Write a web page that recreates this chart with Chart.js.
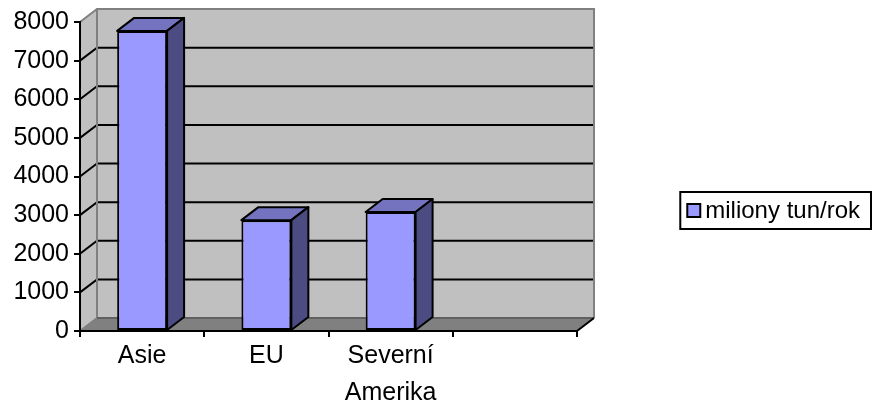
<!DOCTYPE html>
<html>
<head>
<meta charset="utf-8">
<script src="https://cdn.jsdelivr.net/npm/chart.js@4/dist/chart.umd.min.js"></script>
<style>
    body { margin: 0; background: #fff; }
    #wrap { width: 872px; height: 405px; position: relative; }
</style>
</head>
<body>
<div id="wrap"><canvas id="chart"></canvas></div>
<script>
    // Data
    const categories = ['Asie', 'EU', ['Severní', 'Amerika'], ''];
    const values = [7770, 2870, 3080, null];
    const seriesLabel = 'miliony tun/rok';
    const yTicks = [0, 1000, 2000, 3000, 4000, 5000, 6000, 7000, 8000];

    const FONT = "'Liberation Sans', Arial, sans-serif";
    const DX = 17, DY = -13;  // hloubka 3D

    // zadní stěna, boční stěna, podlaha a mřížka
    const wallsPlugin = {
        id: 'walls',
        beforeDraw(chart) {
            const ctx = chart.ctx;
            const a = chart.chartArea;
            const y = chart.scales.y;
            ctx.save();
            // zadní stěna
            ctx.fillStyle = '#c0c0c0';
            ctx.fillRect(a.left + DX, a.top + DY, a.right - a.left, a.bottom - a.top);
            // boční stěna
            ctx.beginPath();
            ctx.moveTo(a.left, a.top);
            ctx.lineTo(a.left + DX, a.top + DY);
            ctx.lineTo(a.left + DX, a.bottom + DY);
            ctx.lineTo(a.left, a.bottom);
            ctx.closePath();
            ctx.fill();
            // podlaha
            ctx.fillStyle = '#808080';
            ctx.beginPath();
            ctx.moveTo(a.left, a.bottom);
            ctx.lineTo(a.right, a.bottom);
            ctx.lineTo(a.right + DX, a.bottom + DY);
            ctx.lineTo(a.left + DX, a.bottom + DY);
            ctx.closePath();
            ctx.fill();
            // mřížka
            ctx.strokeStyle = '#000';
            ctx.lineWidth = 2;
            yTicks.forEach(v => {
                if (v === 0 || v === yTicks[yTicks.length - 1]) return;
                const py = y.getPixelForValue(v);
                ctx.beginPath();
                ctx.moveTo(a.left, py);
                ctx.lineTo(a.left + DX, py + DY);
                ctx.lineTo(a.right + DX, py + DY);
                ctx.stroke();
            });
            // okraje stěn
            ctx.strokeStyle = '#808080';
            ctx.beginPath();
            ctx.moveTo(a.left, a.top);
            ctx.lineTo(a.left + DX, a.top + DY);
            ctx.lineTo(a.right + DX, a.top + DY);
            ctx.lineTo(a.right + DX, a.bottom + DY);
            ctx.moveTo(a.left + DX, a.top + DY);
            ctx.lineTo(a.left + DX, a.bottom + DY);
            ctx.lineTo(a.left, a.bottom);
            ctx.stroke();
            ctx.strokeStyle = '#606060';
            ctx.beginPath();
            ctx.moveTo(a.left + DX, a.bottom + DY);
            ctx.lineTo(a.right + DX, a.bottom + DY);
            ctx.stroke();
            ctx.strokeStyle = '#000';
            ctx.beginPath();
            ctx.moveTo(a.right, a.bottom);
            ctx.lineTo(a.right + DX, a.bottom + DY);
            ctx.stroke();
            ctx.restore();
        },
        // horní a boční strana sloupců
        afterDatasetsDraw(chart) {
            const ctx = chart.ctx;
            const meta = chart.getDatasetMeta(0);
            ctx.save();
            ctx.strokeStyle = '#000';
            ctx.lineWidth = 2;
            ctx.lineJoin = 'round';
            meta.data.forEach((bar, i) => {
                if (values[i] == null) return;
                const p = bar.getProps(['x', 'y', 'base', 'width'], true);
                const l = p.x - p.width / 2, r = p.x + p.width / 2;
                const t = p.y, b = p.base;
                ctx.fillStyle = '#7373c0';
                ctx.beginPath();
                ctx.moveTo(l, t);
                ctx.lineTo(l + DX, t + DY);
                ctx.lineTo(r + DX, t + DY);
                ctx.lineTo(r, t);
                ctx.closePath();
                ctx.fill();
                ctx.stroke();
                ctx.fillStyle = '#4c4c82';
                ctx.beginPath();
                ctx.moveTo(r, t);
                ctx.lineTo(r + DX, t + DY);
                ctx.lineTo(r + DX, b + DY);
                ctx.lineTo(r, b);
                ctx.closePath();
                ctx.fill();
                ctx.stroke();
            });
            ctx.restore();
        },
        // legenda
        afterDraw(chart) {
            const ctx = chart.ctx;
            const ds = chart.data.datasets[0];
            ctx.save();
            ctx.font = '24px ' + FONT;
            const tw = ctx.measureText(ds.label).width;
            const bx = 860 - tw - 25, by = 192, bw = tw + 36, bh = 37;
            ctx.fillStyle = '#fff';
            ctx.fillRect(bx, by, bw, bh);
            ctx.strokeStyle = '#000';
            ctx.lineWidth = 2;
            ctx.strokeRect(bx, by, bw, bh);
            ctx.fillStyle = ds.backgroundColor;
            ctx.fillRect(bx + 7, by + 12, 13, 13);
            ctx.strokeRect(bx + 7, by + 12, 13, 13);
            ctx.fillStyle = '#000';
            ctx.textBaseline = 'middle';
            ctx.fillText(ds.label, bx + 25, by + bh / 2 + 1);
            ctx.restore();
        }
    };

    const chart = new Chart(document.getElementById('chart'), {
        type: 'bar',
        data: {
            labels: categories,
            datasets: [{
                label: seriesLabel,
                data: values,
                backgroundColor: '#9999ff',
                borderColor: '#000',
                borderWidth: 2,
                borderSkipped: false,
                categoryPercentage: 1,
                barPercentage: 0.402
            }]
        },
        options: {
            responsive: true,
            maintainAspectRatio: false,
            animation: false,
            layout: { padding: { top: 22, right: 295, left: 0, bottom: 0 } },
            plugins: {
                legend: { display: false },
                tooltip: { enabled: false }
            },
            scales: {
                x: {
                    grid: { display: true, drawOnChartArea: false, drawTicks: true, tickLength: 6, color: '#000', lineWidth: 2, offset: true },
                    border: { display: true, color: '#000', width: 2 },
                    ticks: { color: '#000', font: { family: FONT, size: 25, lineHeight: 1.48 }, padding: 1, maxRotation: 0, autoSkip: false },
                    afterFit(scale) { scale.height = 74; }
                },
                y: {
                    min: 0,
                    max: 8000,
                    grid: { display: true, drawOnChartArea: false, drawTicks: true, tickLength: 6, color: '#000', lineWidth: 2 },
                    border: { display: true, color: '#000', width: 2 },
                    ticks: {
                        stepSize: 1000,
                        color: '#000',
                        font: { family: FONT, size: 25 },
                        padding: 5,
                        callback: v => String(v)
                    },
                    afterFit(scale) { scale.width = 80; }
                }
            }
        },
        plugins: [wallsPlugin]
    });
</script>
</body>
</html>
